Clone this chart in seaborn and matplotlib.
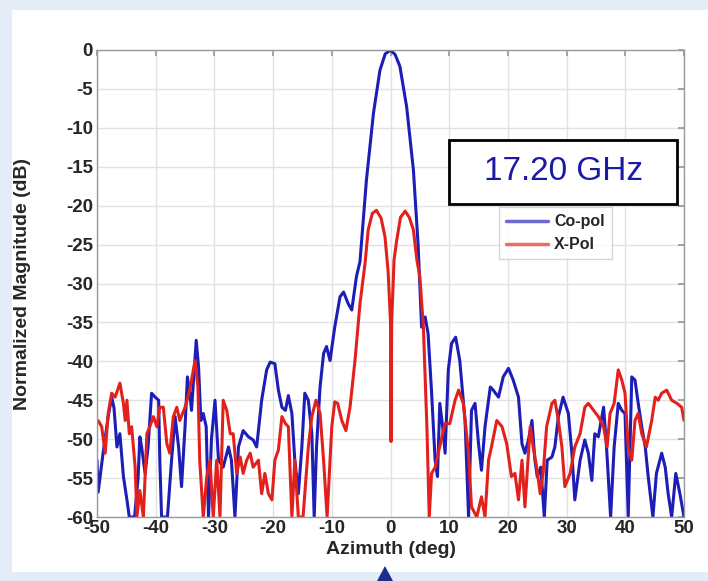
import numpy as np
import pandas as pd
import matplotlib
matplotlib.use("Agg")
import matplotlib.pyplot as plt
from matplotlib.patches import Rectangle, Polygon
import seaborn as sns

# -------------------------------
# Data
# -------------------------------
co_az = [-50.0, -49.8, -49.0, -48.1, -47.5, -47.1, -46.6, -46.1, -45.5, -44.9,
         -44.5, -43.6, -43.0, -42.7, -42.4, -41.8, -41.3, -40.7, -40.1, -39.5,
         -39.3, -39.0, -38.0, -37.3, -36.7, -36.1, -35.6, -35.0, -34.6, -34.2,
         -33.9, -33.1, -32.7, -32.3, -31.9, -31.4, -31.0, -30.5, -29.9, -29.3,
         -28.5, -27.6, -27.1, -26.5, -25.9, -25.1, -24.2, -23.4, -22.8, -21.95,
         -21.1, -20.5, -19.7, -19.1, -18.5, -17.9, -17.4, -16.8, -16.3, -15.7,
         -15.1, -14.6, -14.0, -13.4, -13.0, -12.6, -12.0, -11.4, -10.9, -10.3,
         -9.5, -8.6, -8.0, -7.2, -6.6, -5.8, -5.2, -4.1, -2.9, -1.8,
         -0.9, 0.0, 0.8, 1.6, 2.75, 3.9, 4.7, 5.3, 5.9, 6.4,
         7.0, 7.6, 8.0, 8.4, 8.9, 9.3, 9.85, 10.4, 11.1, 11.8,
         12.7, 13.3, 13.8, 14.4, 15.0, 15.5, 16.1, 17.0, 17.5, 18.4,
         19.2, 20.1, 20.9, 21.8, 22.4, 22.9, 23.5, 24.1, 24.6, 25.0,
         25.6, 26.2, 26.7, 27.5, 28.0, 28.6, 29.4, 30.3, 30.9, 31.4,
         32.3, 33.1, 33.7, 34.3, 34.8, 35.4, 36.3, 36.8, 37.5, 38.1,
         38.8, 39.4, 39.95, 40.5, 41.1, 41.65, 42.2, 42.8, 43.4, 43.9,
         44.7, 45.3, 46.2, 46.8, 47.3, 47.9, 48.6, 49.3, 50.0]
co_db = [-52.7, -56.8, -52.0, -47.1, -44.6, -46.0, -51.0, -49.3, -54.8, -57.8,
         -60.0, -60.0, -55.0, -49.7, -51.0, -54.4, -51.0, -44.1, -44.6, -45.0,
         -52.7, -60.0, -60.0, -52.7, -47.1, -51.0, -56.1, -48.4, -42.0, -44.1,
         -46.3, -37.3, -40.7, -47.6, -46.7, -48.4, -60.0, -50.0, -45.0, -52.7,
         -53.6, -51.0, -52.7, -60.0, -51.0, -48.9, -49.7, -50.1, -51.0, -45.0,
         -41.1, -40.1, -40.3, -43.7, -45.9, -46.3, -44.4, -46.7, -52.7, -57.0,
         -51.0, -44.1, -45.0, -49.3, -60.0, -51.0, -43.3, -39.0, -38.1, -39.9,
         -35.6, -31.7, -31.1, -32.6, -33.4, -29.1, -27.2, -16.7, -8.1, -2.6,
         -0.5, 0.0, -0.6, -2.1, -7.3, -15.4, -25.0, -35.6, -34.3, -36.4,
         -44.0, -52.7, -54.8, -45.4, -48.5, -51.8, -41.1, -37.7, -36.9, -39.9,
         -47.6, -60.0, -46.3, -45.4, -50.6, -54.0, -48.4, -43.3, -43.7, -44.6,
         -42.0, -40.9, -42.4, -44.6, -50.6, -51.8, -50.1, -47.6, -52.7, -54.8,
         -53.6, -60.0, -52.7, -52.3, -51.0, -47.1, -44.6, -46.7, -51.8, -57.8,
         -52.7, -50.1, -51.8, -55.3, -49.3, -49.7, -45.9, -51.0, -60.0, -51.0,
         -45.4, -46.3, -46.7, -60.0, -42.0, -42.4, -45.4, -48.4, -51.0, -54.8,
         -60.0, -54.4, -51.8, -53.6, -57.0, -60.0, -54.4, -57.0, -60.0]

x_az = [-50.0, -49.8, -49.2, -48.6, -48.1, -47.5, -46.9, -46.1, -45.5, -45.2,
        -44.9, -44.5, -44.1, -43.5, -43.2, -42.7, -42.1, -41.5, -41.0, -40.4,
        -39.8, -39.3, -38.7, -38.1, -37.6, -37.0, -36.4, -35.9, -35.0, -34.2,
        -33.3, -32.8, -32.5, -31.9, -31.3, -30.75, -30.2, -29.6, -29.05, -28.5,
        -27.9, -27.3, -26.8, -26.2, -25.6, -25.1, -24.5, -23.9, -23.4, -22.5,
        -21.95, -21.4, -20.8, -20.2, -19.7, -19.1, -18.5, -17.9, -17.4, -16.8,
        -16.3, -15.7, -14.9, -14.0, -13.4, -12.7, -12.0, -11.4, -10.8, -10.0,
        -9.5, -9.0, -8.3, -7.6, -6.9, -6.05, -5.2, -4.35, -3.8, -3.1,
        -2.4, -1.6, -0.94, -0.4, 0.0, 0.08, 0.2, 0.6, 1.05, 1.7,
        2.5, 3.2, 3.9, 4.5, 5.0, 5.6, 6.2, 6.6, 7.0, 7.6,
        8.4, 9.3, 10.1, 11.0, 11.6, 12.4, 13.3, 13.8, 14.7, 15.5,
        16.1, 16.7, 17.2, 18.1, 19.0, 19.8, 20.6, 21.2, 21.8, 22.4,
        22.9, 23.8, 24.3, 24.9, 25.5, 26.0, 26.6, 27.5, 28.0, 28.6,
        29.2, 29.7, 30.6, 31.4, 32.3, 33.1, 33.7, 34.6, 35.4, 36.3,
        36.9, 37.4, 38.1, 38.8, 39.4, 39.95, 40.5, 41.1, 41.65, 42.2,
        42.8, 43.6, 44.5, 45.1, 45.6, 46.2, 47.05, 47.9, 48.8, 49.6, 50.0]
x_db = [-48.0, -47.6, -48.4, -51.8, -46.7, -44.1, -44.6, -42.8, -45.4, -47.6,
        -45.0, -49.3, -48.4, -53.6, -60.0, -56.6, -60.0, -49.3, -48.4, -47.1,
        -48.4, -45.9, -45.9, -50.6, -51.8, -47.1, -45.9, -47.6, -45.9, -43.7,
        -39.9, -43.3, -52.7, -60.0, -54.8, -52.7, -60.0, -52.7, -60.0, -45.0,
        -46.3, -49.3, -49.3, -54.4, -52.3, -54.4, -52.7, -51.8, -53.6, -52.7,
        -57.0, -54.4, -57.0, -57.8, -52.7, -51.4, -47.1, -48.0, -48.4, -60.0,
        -52.7, -60.0, -60.0, -51.0, -47.1, -45.0, -46.7, -52.7, -60.0, -48.4,
        -45.2, -45.4, -47.6, -48.9, -45.9, -39.9, -32.6, -27.5, -23.1, -21.0,
        -20.6, -21.6, -24.0, -28.5, -35.0, -50.3, -35.0, -27.0, -24.5, -21.5,
        -20.7, -21.5, -23.1, -27.0, -29.1, -35.6, -48.4, -60.0, -54.4, -53.6,
        -50.9, -48.0, -48.0, -45.0, -43.7, -45.4, -51.8, -58.7, -60.0, -57.4,
        -60.0, -52.7, -51.0, -47.6, -48.4, -50.6, -54.8, -54.4, -57.8, -52.7,
        -58.7, -48.4, -51.0, -53.6, -57.0, -54.4, -48.4, -45.4, -45.0, -47.6,
        -51.0, -56.1, -54.4, -51.0, -49.3, -45.9, -45.4, -46.3, -47.1, -48.4,
        -51.0, -46.7, -45.4, -41.1, -42.4, -44.1, -51.0, -52.7, -47.6, -46.7,
        -49.3, -51.0, -47.6, -44.6, -45.0, -44.1, -43.7, -45.0, -45.4, -45.9, -47.6]

x_ticks = list(range(-50, 51, 10))
y_ticks = list(range(-60, 1, 5))

co = pd.DataFrame({"az": co_az, "db": co_db})
xp = pd.DataFrame({"az": x_az, "db": x_db})

# -------------------------------
# Figure
# -------------------------------
sns.set_theme(style="whitegrid")
plt.rcParams['font.family'] = ['Liberation Sans', 'DejaVu Sans']
plt.rcParams['axes.unicode_minus'] = False

W, H = 708, 581
fig = plt.figure(figsize=(7.08, 5.81), dpi=100)
fig.patch.set_facecolor("#e3ecf7")

# white panel behind the plot, blue marker at the bottom
fig.patches.append(Rectangle((12 / W, 1 - 572 / H), (W - 12) / W, (572 - 10) / H,
                             transform=fig.transFigure, facecolor="white",
                             edgecolor="none", zorder=-10))
fig.patches.append(Polygon([(377 / W, 0.0), (393 / W, 0.0), (385 / W, 1 - 566 / H)],
                           closed=True, transform=fig.transFigure,
                           facecolor="#1a2f8a", edgecolor="none", zorder=-5))

# axes box in pixels: x 97..684, y 50..517
ax = fig.add_axes([97 / W, 1 - 517 / H, (684 - 97) / W, (517 - 50) / H])
ax.set_facecolor("white")

sns.lineplot(data=co, x="az", y="db", ax=ax, color="#1d1db8", lw=2.2,
             label="Co-pol", estimator=None)
sns.lineplot(data=xp, x="az", y="db", ax=ax, color="#e3211c", lw=2.2,
             label="X-Pol", estimator=None)

ax.set_xlim(-50, 50)
ax.set_ylim(-60, 0)
ax.set_xticks(x_ticks)
ax.set_yticks(y_ticks)
ax.tick_params(axis="both", labelsize=13.5, direction="in", length=4,
               color="#999999", pad=3, top=True, right=True)
ax.tick_params(axis="x", pad=2)
for lab in ax.get_xticklabels() + ax.get_yticklabels():
    lab.set_fontweight("bold")
ax.grid(True, color="#e2e2e2", lw=1.0)
for s in ax.spines.values():
    s.set_color("#9a9a9a")
    s.set_linewidth(1.0)

ax.set_xlabel("Azimuth (deg)", fontsize=14, fontweight="bold")
ax.set_ylabel("Normalized Magnitude (dB)", fontsize=14, fontweight="bold")
ax.xaxis.set_label_coords(0.5, (517 - 541) / 467)
ax.yaxis.set_label_coords((31 - 97) / 587, 0.5)

# legend: px x 499..628, y 207..265
leg = ax.legend(loc="upper left",
                bbox_to_anchor=((499 - 97) / 587, 1 - (207 - 50) / 467),
                fontsize=11.5, frameon=True, fancybox=False, handlelength=2.6,
                borderpad=0.45, labelspacing=0.5, handletextpad=0.4,
                borderaxespad=0)
leg.get_frame().set_edgecolor("#cccccc")
leg.get_frame().set_linewidth(1.0)
for t in leg.get_texts():
    t.set_fontweight("bold")
for h in leg.get_lines():
    h.set_linewidth(2.5)
    h.set_alpha(0.65)

# frequency box: px x 449..677, y 140..204
bx0, bx1, by0, by1 = 449, 677, 140, 204
ax.add_patch(Rectangle(((bx0 - 97) / 587, 1 - (by1 - 50) / 467), (bx1 - bx0) / 587,
                       (by1 - by0) / 467, transform=ax.transAxes, facecolor="white",
                       edgecolor="black", lw=2.0, zorder=5))
ax.text(((bx0 + bx1) / 2 - 97) / 587, 1 - ((by0 + by1) / 2 - 50) / 467, "17.20 GHz",
        transform=ax.transAxes, ha="center", va="center", fontsize=24,
        color="#1a1aa6", zorder=6)

fig.savefig("out.png", dpi=100, facecolor=fig.get_facecolor())
